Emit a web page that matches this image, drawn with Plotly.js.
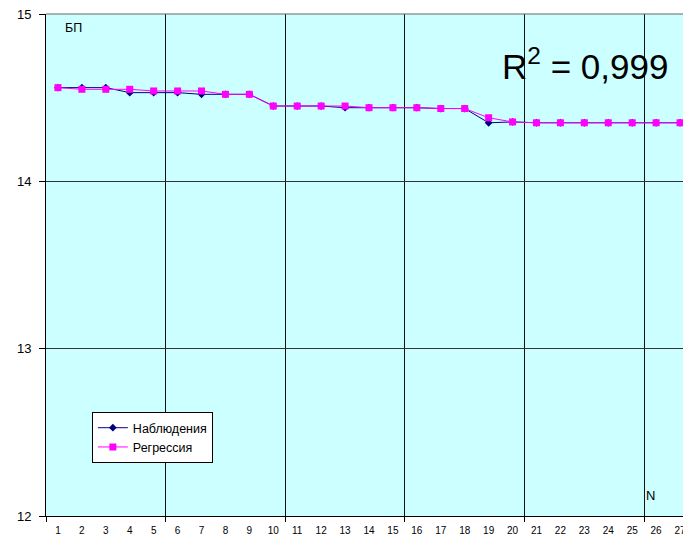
<!DOCTYPE html>
<html>
<head>
<meta charset="utf-8">
<script src="https://cdn.plot.ly/plotly-3.0.1.min.js"></script>
<style>html,body{margin:0;padding:0;overflow:hidden;background:#fff;width:683px;height:537px}</style>
</head>
<body>
<div id="chart" style="width:692px;height:537px"></div>
<script>
const N = [1,2,3,4,5,6,7,8,9,10,11,12,13,14,15,16,17,18,19,20,21,22,23,24,25,26,27];
const tickLabels = N.map(String);
const observed = [14.56,14.56,14.56,14.53,14.53,14.53,14.52,14.52,14.52,14.45,14.45,14.45,14.44,14.44,14.44,14.44,14.435,14.435,14.35,14.355,14.35,14.35,14.35,14.35,14.35,14.35,14.35];
const regression = [14.56,14.55,14.55,14.55,14.54,14.54,14.54,14.52,14.52,14.45,14.45,14.45,14.45,14.44,14.44,14.44,14.435,14.435,14.38,14.355,14.35,14.35,14.35,14.35,14.35,14.35,14.35];

const traces = [
  {x: N, y: observed, name: 'Наблюдения', type: 'scatter', mode: 'lines+markers',
   line: {color: '#000080', width: 1}, marker: {symbol: 'diamond', size: 6, color: '#000080'}},
  {x: N, y: regression, name: 'Регрессия', type: 'scatter', mode: 'lines+markers',
   line: {color: '#FF00FF', width: 1}, marker: {symbol: 'square', size: 7, color: '#FF00FF'}}
];

const layout = {
  width: 692, height: 537,
  margin: {l: 46, r: 0, t: 14, b: 21},
  paper_bgcolor: '#ffffff',
  plot_bgcolor: '#CCFFFF',
  font: {family: 'Arial, Liberation Sans, sans-serif', color: '#000'},
  showlegend: true,
  legend: {x: 0.071, y: 0.207, xanchor: 'left', yanchor: 'top', bgcolor: '#ffffff',
           bordercolor: '#000', borderwidth: 1, font: {size: 12.5}, tracegroupgap: 2},
  xaxis: {type: 'linear', range: [0.5, 27.5], tickvals: N, ticktext: tickLabels,
          showgrid: false, zeroline: false, ticks: '', showline: true, linecolor: '#000', linewidth: 1,
          tickfont: {size: 10}, ticklabelstandoff: 5,
          minor: {tick0: 0.5, dtick: 5, showgrid: true, gridcolor: '#111', gridwidth: 1, ticks: 'outside', ticklen: 5, tickcolor: '#000'}},
  yaxis: {range: [12, 15], tickvals: [12,13,14,15], showgrid: true, gridcolor: '#333', gridwidth: 1,
          zeroline: false, ticks: 'outside', ticklen: 6, tickcolor: '#000', showline: true, linecolor: '#000',
          linewidth: 1, tickfont: {size: 13}, ticklabelstandoff: 5},
  shapes: [
    {type: 'line', xref: 'paper', yref: 'paper', x0: 0, x1: 1, y0: 1, y1: 1, line: {color: '#666', width: 1}}
  ],
  annotations: [
    {text: 'БП', xref: 'paper', yref: 'paper', x: 0.026, y: 0.99, xanchor: 'left', yanchor: 'top', showarrow: false, font: {size: 12.5}},
    {text: 'N', xref: 'paper', yref: 'paper', x: 0.925, y: 0.022, xanchor: 'left', yanchor: 'bottom', showarrow: false, font: {size: 13}},
    {text: 'R<sup>2</sup> = 0,999', xref: 'paper', yref: 'paper', x: 0.966, y: 0.9, xanchor: 'right', yanchor: 'middle', showarrow: false, font: {size: 35}}
  ]
};

Plotly.newPlot('chart', traces, layout, {displayModeBar: false, staticPlot: true});
</script>
</body>
</html>
